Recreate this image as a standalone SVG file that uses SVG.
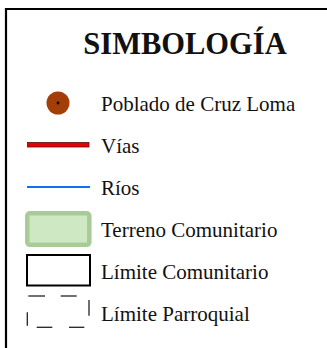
<svg xmlns="http://www.w3.org/2000/svg" width="327" height="348" viewBox="0 0 327 348">
<style>
.t{font-family:"Liberation Serif","Times New Roman",serif;font-size:21px;fill:#111}
.h{font-family:"Liberation Serif","Times New Roman",serif;font-size:30.5px;font-weight:bold;fill:#111}
.d{stroke:#222;stroke-width:1.3;fill:none}
</style>
<rect width="327" height="348" fill="#fff"/>
<g id="frame">
<path d="M6,350 V9 H330" fill="none" stroke="#000" stroke-width="2.2"/>
</g>
<g id="title"><text class="h" x="185" y="53.5" text-anchor="middle">SIMBOLOGÍA</text></g>
<g id="poblado">
<circle cx="58" cy="103" r="11.5" fill="#a33e08"/>
<circle cx="58" cy="103" r="1.4" fill="#000"/>
<text class="t" x="101" y="110.7">Poblado de Cruz Loma</text>
</g>
<g id="vias">
<rect x="27.5" y="142.5" width="61.5" height="4.5" fill="#e80000" stroke="#5a1010" stroke-width="0.8"/>
<text class="t" x="101" y="153">Vías</text>
</g>
<g id="rios">
<line x1="27" y1="187" x2="90" y2="187" stroke="#1070f0" stroke-width="2.2"/>
<text class="t" x="101" y="195">Ríos</text>
</g>
<g id="terreno">
<rect x="27.3" y="213.3" width="62" height="31.5" rx="2.5" fill="#cfe8c4" stroke="#a8cb98" stroke-width="4.5"/>
<text class="t" x="101" y="236.8">Terreno Comunitario</text>
</g>
<g id="limite-comunitario">
<rect x="27" y="255" width="63" height="30.5" fill="#fff" stroke="#000" stroke-width="2"/>
<text class="t" x="101" y="278.5">Límite Comunitario</text>
</g>
<g id="limite-parroquial">
<line class="d" x1="28.3" y1="296" x2="45" y2="296"/>
<line class="d" x1="60.7" y1="296" x2="76.7" y2="296"/>
<line class="d" x1="89" y1="300" x2="89" y2="315.7"/>
<line class="d" x1="84.3" y1="327.3" x2="69" y2="327.3"/>
<line class="d" x1="52.3" y1="327.3" x2="36.7" y2="327.3"/>
<line class="d" x1="27.3" y1="325.7" x2="27.3" y2="312.3"/>
<text class="t" x="101" y="320.5">Límite Parroquial</text>
</g>
</svg>
